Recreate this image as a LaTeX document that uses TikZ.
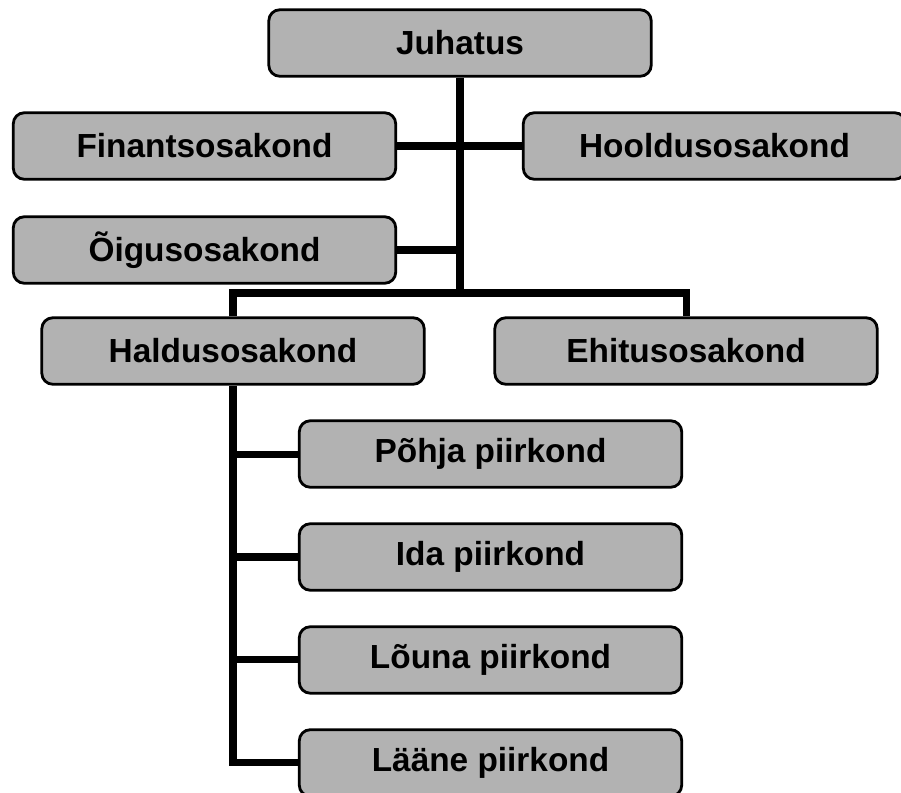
\documentclass[tikz,border=0pt]{standalone}
\usepackage{fontspec}
\setmainfont{Liberation Sans}
\usetikzlibrary{positioning}
\tikzstyle{link} = [line width=4pt]

\begin{document}
\begin{tikzpicture}
		[
		x=0.02cm, y=-0.02cm,
		block/.style={
		draw,
		rectangle,
		rounded corners=0.22cm,
		line width=1.6pt,
		fill=black!30,
		minimum width=7.65cm,
		minimum height=1.33cm,
		font=\fontsize{19}{22}\selectfont\bfseries},
		node distance=2.06cm
		]
		\useasboundingbox (0,0) rectangle (901,792);
		\node[block](juhatus) at (460,43) {Juhatus};
		\node[block](finants) at (204.5,146) {Finantsosakond};
		\node[block](hooldus) at (714.5,146) {Hooldusosakond};
		\node[block](oigus) at (204.5,250) {Õigusosakond};
		\node[block](haldus) at (233,351) {Haldusosakond};
		\node[block](ehitus) at (686,351) {Ehitusosakond};
		\node[block](pohja) at (490.5,454) {Põhja piirkond};
		\node[block,below of=pohja](ida) {Ida piirkond};
		\node[block,below of=ida](louna) {Lõuna piirkond};
		\node[block,below of=louna](laane) {Lääne piirkond};
		\coordinate (bus) at (460,293);
		% ylemine haru
		\draw[link] (juhatus.south) -- (bus);
		\draw[link] (finants.east) -- (hooldus.west);
		\draw[link] (oigus.east) -- (oigus.east -| bus);
		\draw[link] (haldus.north) -- (haldus.north |- bus) -- (ehitus.north |- bus) -- (ehitus.north);
		% piirkonnad
		\draw[link] (haldus.south) -- (haldus.south |- laane.west) -- (laane.west);
		\draw[link] (haldus.south |- pohja.west) -- (pohja.west);
		\draw[link] (haldus.south |- ida.west) -- (ida.west);
		\draw[link] (haldus.south |- louna.west) -- (louna.west);
		\end{tikzpicture}
\end{document}
